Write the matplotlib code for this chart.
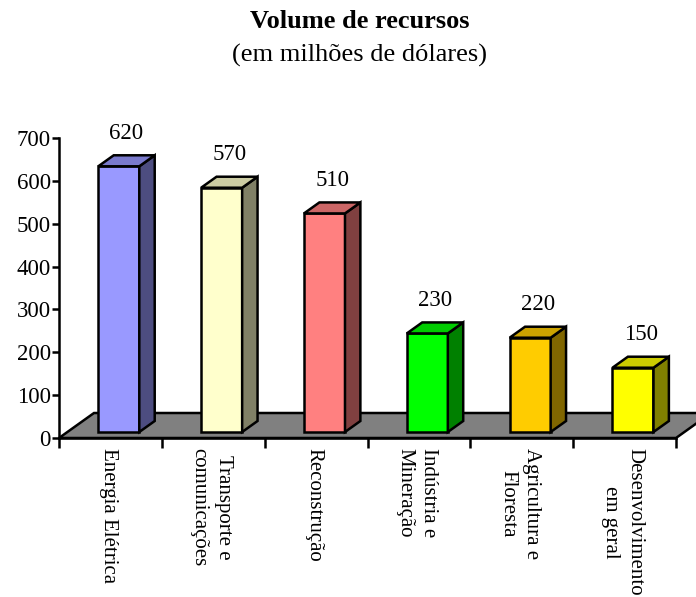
import matplotlib.pyplot as plt
from matplotlib.patches import Polygon
from matplotlib.colors import to_rgb

categories = ['Energia Elétrica', 'Transporte e\ncomunicações', 'Reconstrução',
              'Indústria e\nMineração', 'Agricultura e\nFloresta',
              'Desenvolvimento\nem geral']
values = [620, 570, 510, 230, 220, 150]
front_colors = ['#9999FF', '#FFFFCC', '#FF8080', '#00FF00', '#FFCC00', '#FFFF00']
yticks = [0, 100, 200, 300, 400, 500, 600, 700]

plt.rcParams['font.family'] = 'Liberation Serif'

W, H = 696, 597
fig = plt.figure(figsize=(W / 100, H / 100), dpi=100)

# axes box in pixels
left, right, bottom, top = 59, 676, 438, 138
ax = fig.add_axes([left / W, 1 - bottom / H, (right - left) / W, (bottom - top) / H])
ax.set_xlim(0, len(categories))
ax.set_ylim(0, 700)

ppc = (right - left) / len(categories)   # px per category
ppv = (bottom - top) / 700               # px per value unit


def off(dx_px, dy_px):
    return dx_px / ppc, dy_px / ppv


lw = 1.8

# floor
fdx, fdy = off(35, 25)
n = len(categories)
floor = Polygon([(0, 0), (n, 0), (n + fdx, fdy), (fdx, fdy)], closed=True,
                facecolor='#808080', edgecolor='black', lw=lw, clip_on=False, zorder=1)
ax.add_patch(floor)

# bars
bx, by = off(8.4, 6)      # front face offset from floor front edge
ddx, ddy = off(15.4, 11)  # bar depth
bw = 41 / ppc

for i, (v, c) in enumerate(zip(values, front_colors)):
    rgb = to_rgb(c)
    side = tuple(k * 0.5 for k in rgb)
    topc = tuple(k * 0.8 for k in rgb)
    x0 = i + 0.5 + bx - bw / 2
    x1 = x0 + bw
    y0 = by
    y1 = by + v
    ax.add_patch(Polygon([(x0, y0), (x1, y0), (x1, y1), (x0, y1)], closed=True,
                         facecolor=c, edgecolor='black', lw=lw, clip_on=False, zorder=3))
    ax.add_patch(Polygon([(x1, y0), (x1 + ddx, y0 + ddy), (x1 + ddx, y1 + ddy), (x1, y1)],
                         closed=True, facecolor=side, edgecolor='black', lw=lw,
                         clip_on=False, zorder=3))
    ax.add_patch(Polygon([(x0, y1), (x1, y1), (x1 + ddx, y1 + ddy), (x0 + ddx, y1 + ddy)],
                         closed=True, facecolor=topc, edgecolor='black', lw=lw,
                         clip_on=False, zorder=3))
    ax.text(i + 0.5 + bx + ddx / 2, y1 + 33 / ppv, str(v), ha='center', va='center',
            fontsize=16.5, zorder=4)

# axes styling
for s in ['top', 'right']:
    ax.spines[s].set_visible(False)
ax.spines['left'].set_linewidth(lw)
ax.spines['bottom'].set_linewidth(lw)
ax.spines['bottom'].set_zorder(2)
ax.set_yticks(yticks)
ax.set_yticklabels([str(t) for t in yticks], fontsize=16.5)
ax.tick_params(axis='y', direction='out', length=5, width=lw, pad=1)
ax.set_xticks(range(n + 1))
ax.set_xticklabels([])
ax.tick_params(axis='x', direction='out', length=7, width=lw)

for i, lab in enumerate(categories):
    ax.text(i + 0.48, -10 / (bottom - top), lab, transform=ax.get_xaxis_transform(),
            rotation=270, ha='center', va='top', multialignment='center',
            fontsize=15, linespacing=1.35)

fig.text(360 / W, 1 - 22 / H, 'Volume de recursos', ha='center', va='center',
         fontsize=19, fontweight='bold')
fig.text(360 / W, 1 - 55 / H, '(em milhões de dólares)', ha='center', va='center',
         fontsize=19)

fig.savefig('out.png', dpi=100)
